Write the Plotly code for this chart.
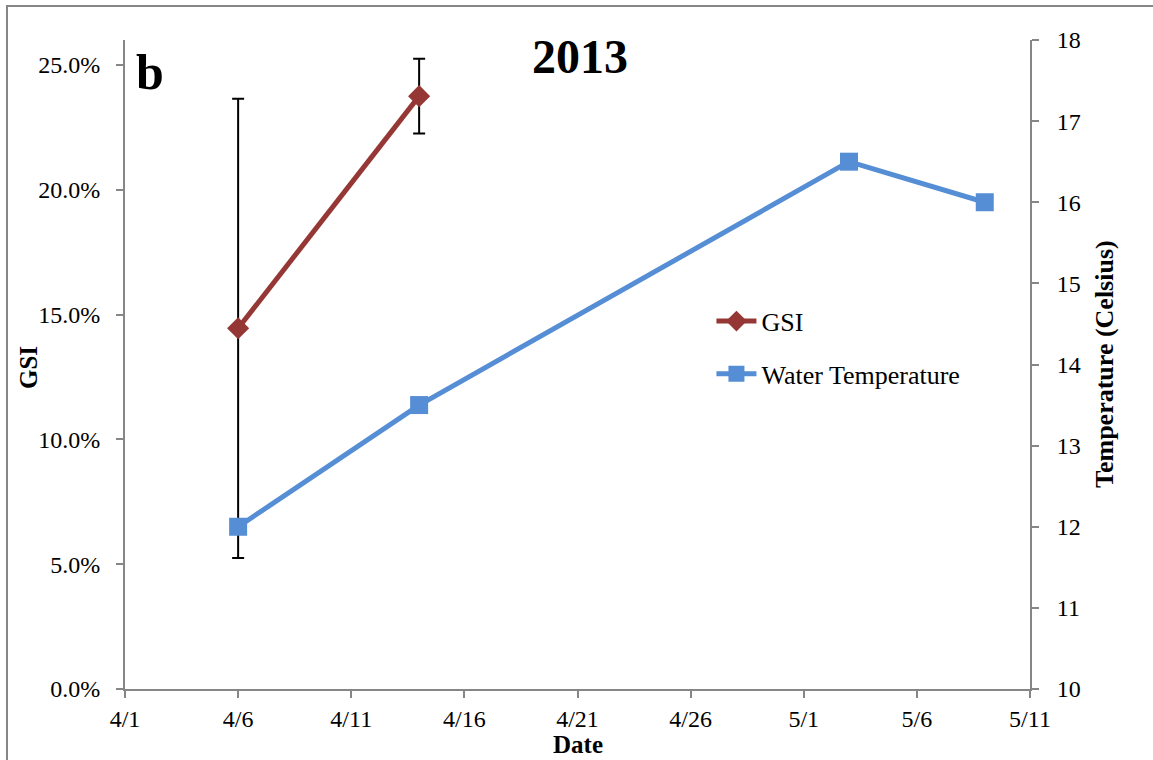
import plotly.graph_objects as go

# GSI sampling (mean and spread)
gsi_dates = ["2013-04-06", "2013-04-14"]
gsi_values = [0.1445, 0.2375]
gsi_err = [0.092, 0.015]

# Water temperature readings (Celsius)
temp_dates = ["2013-04-06", "2013-04-14", "2013-05-03", "2013-05-09"]
temp_values = [12.0, 13.5, 16.5, 16.0]

# Date axis ticks
tick_dates = ["2013-04-01", "2013-04-06", "2013-04-11", "2013-04-16", "2013-04-21",
              "2013-04-26", "2013-05-01", "2013-05-06", "2013-05-11"]
tick_labels = ["4/1", "4/6", "4/11", "4/16", "4/21", "4/26", "5/1", "5/6", "5/11"]

gsi_ticks = [0.0, 0.05, 0.10, 0.15, 0.20, 0.25]
temp_ticks = [10, 11, 12, 13, 14, 15, 16, 17, 18]

AXIS = "#868686"
FONT = "Liberation Serif"
TICK_SIZE = 24

fig = go.Figure()

fig.add_trace(go.Scatter(
    x=gsi_dates, y=gsi_values, name="GSI", mode="lines+markers",
    line=dict(color="#953735", width=5),
    marker=dict(symbol="diamond", size=17, color="#953735"),
    error_y=dict(type="data", array=gsi_err, visible=True,
                 color="black", thickness=2, width=6),
    legendgroup="a",
))

fig.add_trace(go.Scatter(
    x=temp_dates, y=temp_values, name="Water Temperature", mode="lines+markers",
    line=dict(color="#558ED5", width=5),
    marker=dict(symbol="square", size=18, color="#558ED5"),
    yaxis="y2", legendgroup="b",
))

fig.update_layout(
    width=1153, height=760,
    margin=dict(l=125, r=123, t=40, b=71),
    paper_bgcolor="white", plot_bgcolor="white",
    font=dict(family=FONT, size=20, color="black"),
    xaxis=dict(
        type="date", range=["2013-04-01", "2013-05-11"],
        tickmode="array", tickvals=tick_dates, ticktext=tick_labels,
        showgrid=False, zeroline=False,
        showline=True, linecolor=AXIS, linewidth=2,
        ticks="outside", tickcolor=AXIS, tickwidth=2, ticklen=7,
        tickfont=dict(family=FONT, size=TICK_SIZE),
    ),
    yaxis=dict(
        range=[0, 0.26], tickmode="array", tickvals=gsi_ticks, tickformat=".1%",
        showgrid=False, zeroline=False,
        showline=True, linecolor=AXIS, linewidth=2,
        ticks="outside", tickcolor=AXIS, tickwidth=2, ticklen=7,
        tickfont=dict(family=FONT, size=TICK_SIZE), ticklabelstandoff=11,
    ),
    yaxis2=dict(
        range=[10, 18], tickmode="array", tickvals=temp_ticks,
        overlaying="y", side="right",
        showgrid=False, zeroline=False,
        showline=True, linecolor=AXIS, linewidth=2,
        ticks="outside", tickcolor=AXIS, tickwidth=2, ticklen=7,
        tickfont=dict(family=FONT, size=TICK_SIZE), ticklabelstandoff=13,
    ),
    legend=dict(
        x=0.648, y=0.603, xanchor="left", yanchor="top",
        bgcolor="rgba(0,0,0,0)", font=dict(family=FONT, size=26),
        traceorder="grouped", tracegroupgap=16, itemwidth=40,
    ),
    showlegend=True,
)

# Chart-area border
fig.add_shape(type="rect", xref="paper", yref="paper",
              x0=-0.1304, x1=1.2, y0=-0.2, y1=1.0524,
              line=dict(color=AXIS, width=2), layer="below")


def px_x(px):
    return (px - 125) / 905


def px_y(px):
    return (689 - px) / 649


# Panel letter, title and axis titles
labels = [
    ("<b>b</b>", 150, 72, 0, 50),
    ("<b>2013</b>", 580, 57, 0, 48),
    ("<b>GSI</b>", 28, 368, -90, 25),
    ("<b>Date</b>", 578, 744, 0, 25),
    ("<b>Temperature (Celsius)</b>", 1104, 364, -90, 26),
]
for text, x, y, angle, size in labels:
    fig.add_annotation(text=text, xref="paper", yref="paper",
                       x=px_x(x), y=px_y(y), xanchor="center", yanchor="middle",
                       showarrow=False, textangle=angle,
                       font=dict(family=FONT, size=size))

fig.write_html("out.html")
